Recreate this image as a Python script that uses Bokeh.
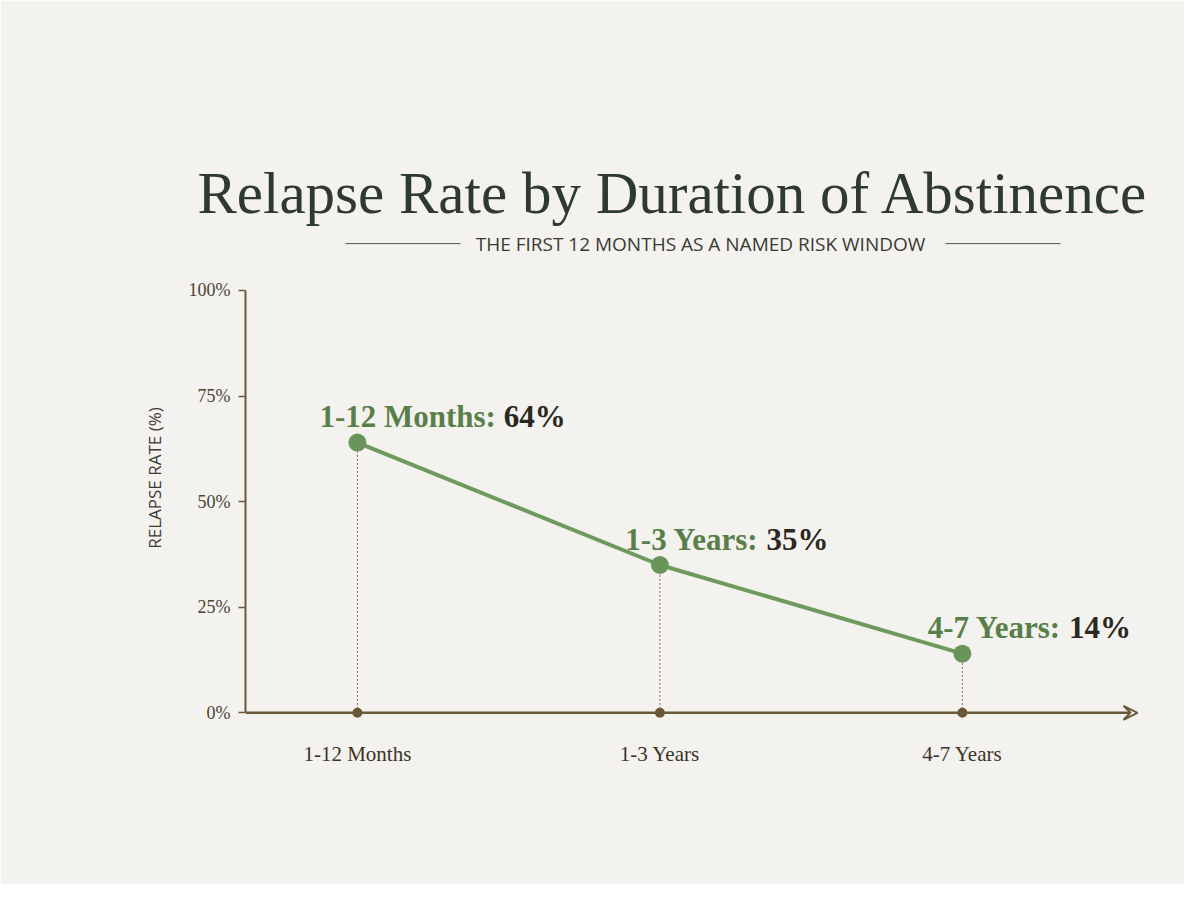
from bokeh.plotting import figure
from bokeh.models import (FixedTicker, PrintfTickFormatter, Arrow, VeeHead,
                          Range1d, ColumnDataSource)
from bokeh.core.properties import value
from bokeh.embed import file_html
from bokeh.resources import INLINE

# data
durations = ["1-12 Months", "1-3 Years", "4-7 Years"]
relapse_pct = [64, 35, 14]
y_ticks = [0, 25, 50, 75, 100]

title = "Relapse Rate by Duration of Abstinence"
subtitle = "THE FIRST 12 MONTHS AS A NAMED RISK WINDOW"

PAPER = "#f3f2ee"
AXIS = "#6b5a3a"
GREEN = "#6a955a"
GREEN_TXT = "#587f4a"
DARK = "#2a2820"

W, H = 1184, 884
LEFT, RIGHT, TOP, BOTTOM = 245, 34, 230, 159
X0, X1 = -0.37, 2.622
Y0, Y1 = -3, 114.2

p = figure(width=W, height=H, output_backend="svg", toolbar_location=None,
           x_range=Range1d(X0, X1), y_range=Range1d(Y0, Y1),
           min_border_left=LEFT, min_border_right=RIGHT,
           min_border_top=TOP, min_border_bottom=BOTTOM)
p.background_fill_color = PAPER
p.border_fill_color = PAPER
p.outline_line_color = None
p.grid.visible = False

p.title.text = title
p.title.align = "left"
p.title.offset = -48
p.title.text_font = "Liberation Serif"
p.title.text_font_size = "59px"
p.title.text_font_style = "normal"
p.title.text_color = "#2f3a2f"

# pixel -> data helper for the decorative rules beside the subtitle
fw = W - LEFT - RIGHT
def px_x(px):
    return X0 + (px - LEFT) / fw * (X1 - X0)

sub_y = 111.1
sub_x = px_x(700)
p.text(x=[sub_x], y=[sub_y], text=[subtitle], text_align="center",
       text_baseline="middle", text_font=value("Open Sans"),
       text_font_size="19px", text_color="#3a3a34")
p.segment(x0=[px_x(345), px_x(945)], y0=[sub_y, sub_y],
          x1=[px_x(460), px_x(1060)], y1=[sub_y, sub_y],
          line_color="#55554d", line_width=1)

# y axis
ya = p.yaxis[0]
ya.ticker = FixedTicker(ticks=y_ticks)
ya.bounds = (0, 100)
ya.formatter = PrintfTickFormatter(format="%d%%")
ya.axis_line_color = AXIS
ya.axis_line_width = 2
ya.major_tick_line_color = AXIS
ya.major_tick_line_width = 1.5
ya.major_tick_in = 0
ya.major_tick_out = 7
ya.minor_tick_line_color = None
ya.major_label_text_font = "Liberation Serif"
ya.major_label_text_font_size = "18px"
ya.major_label_text_color = "#4a4335"
ya.major_label_standoff = 8
ya.axis_label = "RELAPSE RATE (%)"
ya.axis_label_text_font = "Open Sans"
ya.axis_label_text_font_size = "17px"
ya.axis_label_text_font_style = "normal"
ya.axis_label_text_color = "#3a3a33"
ya.axis_label_standoff = 20

# x axis: labels only, the line is drawn as an arrow
xs = list(range(len(durations)))
xa = p.xaxis[0]
xa.ticker = FixedTicker(ticks=xs)
xa.major_label_overrides = {i: d for i, d in zip(xs, durations)}
xa.axis_line_color = None
xa.major_tick_line_color = None
xa.minor_tick_line_color = None
xa.major_label_text_font = "Liberation Serif"
xa.major_label_text_font_size = "21px"
xa.major_label_text_color = "#3b3428"
xa.major_label_standoff = 10

p.add_layout(Arrow(end=VeeHead(size=14, line_color=AXIS, line_width=2,
                               fill_color=None),
                   x_start=X0, y_start=0, x_end=px_x(1137), y_end=0,
                   line_color=AXIS, line_width=2.5))

src = ColumnDataSource(dict(x=xs, y=relapse_pct, zero=[0] * len(xs)))

p.segment(x0="x", y0="zero", x1="x", y1="y", source=src,
          line_color="#7a6a4a", line_width=1, line_dash="2 2")
p.scatter(x="x", y="zero", source=src, size=10, marker="circle",
          fill_color="#6b5532", line_color=None)
p.line(x="x", y="y", source=src, line_color="#6e9a5e", line_width=4)
p.scatter(x="x", y="y", source=src, size=18, marker="circle",
          fill_color=GREEN, line_color=None)

# point labels: green category + dark value
FS = 31
widths = {"-": .333, ":": .333, " ": .25, "M": .944, "Y": .722, "o": .5,
          "n": .556, "t": .333, "h": .556, "s": .389, "e": .444, "a": .5,
          "r": .444}
def text_w(s):
    return sum(widths.get(c, .5) for c in s) * FS

cats = [d + ": " for d in durations]
vals = [f"{v}%" for v in relapse_pct]
anchors = [text_w(c) - 38 for c in cats]
for i in xs:
    p.text(x=[i], y=[relapse_pct[i]], text=[cats[i]], text_align="right",
           text_baseline="alphabetic", x_offset=anchors[i], y_offset=-26,
           text_font=value("Liberation Serif"), text_font_style="bold",
           text_font_size=f"{FS}px", text_color=GREEN_TXT)
    p.text(x=[i], y=[relapse_pct[i]], text=[vals[i]], text_align="left",
           text_baseline="alphabetic", x_offset=anchors[i], y_offset=-26,
           text_font=value("Liberation Serif"), text_font_style="bold",
           text_font_size=f"{FS}px", text_color=DARK)

open("out.html", "w").write(file_html(p, INLINE))
